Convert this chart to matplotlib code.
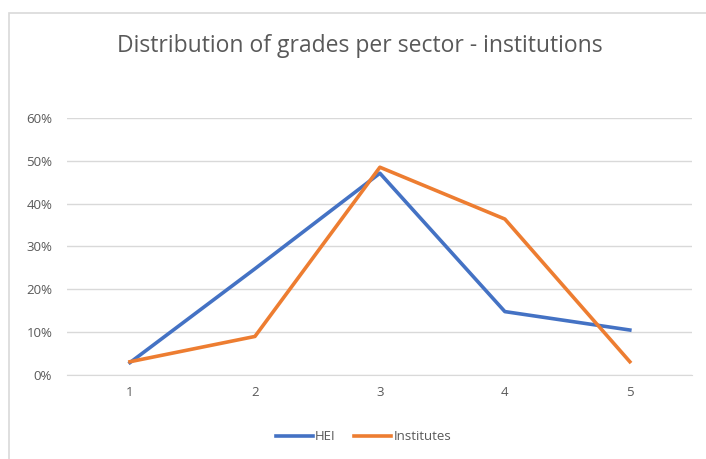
import matplotlib
matplotlib.use('Agg')
import matplotlib.pyplot as plt
from matplotlib.patches import Rectangle
from matplotlib.ticker import PercentFormatter

# data
grades = [1, 2, 3, 4, 5]
hei = [0.029, 0.248, 0.471, 0.148, 0.105]
institutes = [0.031, 0.090, 0.485, 0.364, 0.031]
yticks = [0, 0.1, 0.2, 0.3, 0.4, 0.5, 0.6]

plt.rcParams['font.family'] = ['Open Sans', 'DejaVu Sans']
grey = '#595959'

fig = plt.figure(figsize=(7.06, 4.59), dpi=100)
ax = fig.add_axes([0.0956, 0.183, 0.885, 0.560])

ax.plot(grades, hei, color='#4472C4', linewidth=2.6, label='HEI')
ax.plot(grades, institutes, color='#ED7D31', linewidth=2.6, label='Institutes')

ax.set_xlim(0.5, 5.5)
ax.set_ylim(0, 0.6)
ax.set_xticks(grades)
ax.set_yticks(yticks)
ax.yaxis.set_major_formatter(PercentFormatter(1.0, decimals=0))
ax.grid(axis='y', color='#D9D9D9', linewidth=1)
ax.set_axisbelow(True)
for s in ['top', 'right', 'left']:
    ax.spines[s].set_visible(False)
ax.spines['bottom'].set_color('#D9D9D9')
ax.tick_params(axis='both', length=0, colors=grey, labelsize=9.5)
ax.tick_params(axis='x', pad=8)
ax.tick_params(axis='y', pad=11)

fig.text(0.51, 0.900, 'Distribution of grades per sector - institutions',
         ha='center', va='center', fontsize=16.5, color=grey)

fig.legend(loc='center', bbox_to_anchor=(0.515, 0.048), ncol=2, frameon=False,
           fontsize=9.5, labelcolor=grey, handlelength=2.8, handletextpad=0.2,
           columnspacing=1.4)

# light chart border
fig.patches.append(Rectangle((9 / 706, -0.1), 1.2, 1 - 13 / 459 + 0.1,
                             transform=fig.transFigure, fill=False,
                             edgecolor='#D9D9D9', linewidth=1.2))

fig.savefig('out.png', dpi=100)
